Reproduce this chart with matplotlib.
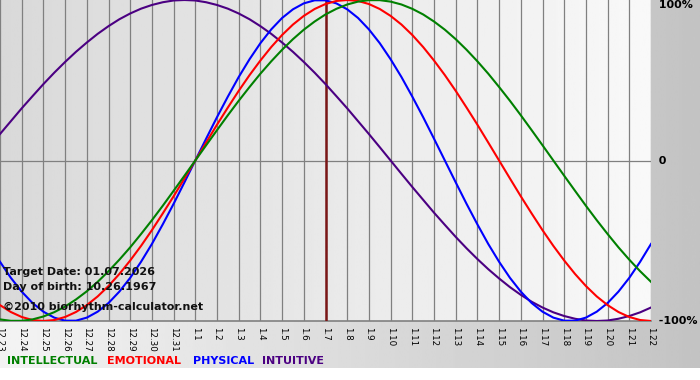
import numpy as np
import matplotlib
matplotlib.use("Agg")
import matplotlib.pyplot as plt

# day labels (month.day)
days = ["12.23", "12.24", "12.25", "12.26", "12.27", "12.28", "12.29", "12.30", "12.31",
        "1.1", "1.2", "1.3", "1.4", "1.5", "1.6", "1.7", "1.8", "1.9", "1.10", "1.11",
        "1.12", "1.13", "1.14", "1.15", "1.16", "1.17", "1.18", "1.19", "1.20", "1.21", "1.22"]
target_day = "1.7"

# values every half day, -1 .. 1
physical = [-0.631, -0.731, -0.817, -0.888, -0.942, -0.979, -0.998, -0.998, -0.979, -0.942,
            -0.888, -0.817, -0.731, -0.631, -0.520, -0.398, -0.270, -0.136, 0.0, 0.136,
            0.270, 0.398, 0.520, 0.631, 0.731, 0.817, 0.888, 0.942, 0.979, 0.998,
            0.998, 0.979, 0.942, 0.888, 0.817, 0.731, 0.631, 0.520, 0.398, 0.270,
            0.136, 0.0, -0.136, -0.270, -0.398, -0.520, -0.631, -0.731, -0.817, -0.888,
            -0.942, -0.979, -0.998, -0.998, -0.979, -0.942, -0.888, -0.817, -0.731, -0.631,
            -0.520]
emotional = [-0.901, -0.944, -0.975, -0.994, -1.0, -0.994, -0.975, -0.944, -0.901, -0.847,
             -0.782, -0.707, -0.623, -0.532, -0.434, -0.330, -0.223, -0.112, 0.0, 0.112,
             0.223, 0.330, 0.434, 0.532, 0.623, 0.707, 0.782, 0.847, 0.901, 0.944,
             0.975, 0.994, 1.0, 0.994, 0.975, 0.944, 0.901, 0.847, 0.782, 0.707,
             0.623, 0.532, 0.434, 0.330, 0.223, 0.112, 0.0, -0.112, -0.223, -0.330,
             -0.434, -0.532, -0.623, -0.707, -0.782, -0.847, -0.901, -0.944, -0.975, -0.994,
             -1.0]
intellectual = [-0.990, -0.999, -0.999, -0.990, -0.972, -0.945, -0.910, -0.866, -0.815, -0.756,
                -0.690, -0.618, -0.541, -0.458, -0.372, -0.282, -0.189, -0.095, 0.0, 0.095,
                0.189, 0.282, 0.372, 0.458, 0.541, 0.618, 0.690, 0.756, 0.815, 0.866,
                0.910, 0.945, 0.972, 0.990, 0.999, 0.999, 0.990, 0.972, 0.945, 0.910,
                0.866, 0.815, 0.756, 0.690, 0.618, 0.541, 0.458, 0.372, 0.282, 0.189,
                0.095, 0.0, -0.095, -0.189, -0.282, -0.372, -0.458, -0.541, -0.618, -0.690,
                -0.756]
intuitive = [0.165, 0.245, 0.325, 0.401, 0.476, 0.547, 0.614, 0.677, 0.735, 0.789,
             0.837, 0.880, 0.916, 0.946, 0.969, 0.986, 0.997, 1.0, 0.997, 0.986,
             0.969, 0.946, 0.916, 0.880, 0.837, 0.789, 0.735, 0.677, 0.614, 0.547,
             0.476, 0.401, 0.325, 0.245, 0.165, 0.083, 0.0, -0.083, -0.165, -0.245,
             -0.325, -0.401, -0.476, -0.547, -0.614, -0.677, -0.735, -0.789, -0.837, -0.880,
             -0.916, -0.946, -0.969, -0.986, -0.997, -1.0, -0.997, -0.986, -0.969, -0.946,
             -0.916]

info_lines = ["Target Date: 01.07.2026", "Day of birth: 10.26.1967", "\u00a92010 biorhythm-calculator.net"]
legend_names = ["INTELLECTUAL", "EMOTIONAL", "PHYSICAL", "INTUITIVE"]
legend_colors = ["#008000", "#ff0000", "#0000ff", "#4b0082"]

W, H = 700, 380
fig = plt.figure(figsize=(7, 3.8), dpi=100, facecolor="white")

# page background: light on the left, grey on the right
bg = fig.add_axes([0, 12 / H, 1, 368 / H], zorder=-2)
bg.imshow(np.linspace(0.955, 0.765, 256).reshape(1, -1), cmap="gray", vmin=0, vmax=1,
          aspect="auto", extent=[0, 1, 0, 1])
bg.axis("off")

x = np.arange(len(days))
xh = np.arange(len(physical)) * 0.5  # half-day steps
ax = fig.add_axes([0, 59 / H, 651 / W, 321 / H])
ax.imshow(np.linspace(0.85, 0.975, 256).reshape(1, -1), cmap="gray", vmin=0, vmax=1,
          aspect="auto", extent=[0, len(days) - 1, -1, 1], zorder=0)
ax.set_xlim(0, len(days) - 1)
ax.set_ylim(-1, 1)
for s in ax.spines.values():
    s.set_visible(False)

for xi in x:
    ax.axvline(xi, color="#808080", lw=0.9, zorder=1)
ax.axhline(0, color="#808080", lw=0.9, zorder=1)
ax.axhline(-1, color="#808080", lw=1.2, zorder=1, clip_on=False)
ax.axvline(days.index(target_day), color="#7a1616", lw=1.8, zorder=2)

ax.plot(xh, intuitive, color=legend_colors[3], lw=1.5, zorder=3)
ax.plot(xh, physical, color=legend_colors[2], lw=1.5, zorder=3)
ax.plot(xh, emotional, color=legend_colors[1], lw=1.5, zorder=3)
ax.plot(xh, intellectual, color=legend_colors[0], lw=1.5, zorder=3)

ax.set_xticks(x)
ax.set_xticklabels(days, rotation=270, fontsize=6.3)
ax.tick_params(axis="x", length=0, pad=4)
ax.set_yticks([])

# right-hand scale labels
for val, lab in [(1, "100%"), (0, "0"), (-1, "-100%")]:
    ax.text(1.0, val, "  " + lab, transform=ax.get_yaxis_transform(), ha="left",
            va="top" if val == 1 else "center", fontsize=8, fontweight="bold", clip_on=False)

for i, line in enumerate(info_lines):
    fig.text(3 / W, 1 - (272 + i * 15 + (5 if i == 2 else 0)) / H, line, ha="left", va="center",
             fontsize=8, fontweight="bold", color="#111111")

xpos = [7, 107, 193, 262]
for px, name, c in zip(xpos, legend_names, legend_colors):
    fig.text(px / W, 1 - 361 / H, name, ha="left", va="center", fontsize=8,
             fontweight="bold", color=c)

fig.savefig("out.png", dpi=100, facecolor="white")
